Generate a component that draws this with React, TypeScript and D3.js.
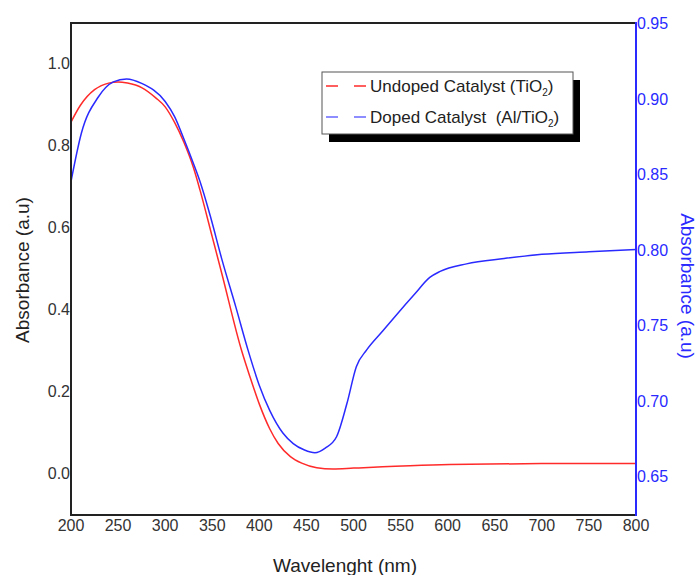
import React from "react";
import * as d3 from "d3";

const undopedWl = [200, 210, 225, 240, 250, 260, 275, 290, 300, 310, 320, 330, 337, 350, 360, 381, 390, 400, 411, 420, 433, 445, 461, 478, 500, 531, 560, 602, 700, 800];
const undopedAbs = [0.856, 0.897, 0.935, 0.951, 0.954, 0.951, 0.94, 0.915, 0.893, 0.855, 0.806, 0.745, 0.69, 0.576, 0.488, 0.30, 0.235, 0.168, 0.108, 0.072, 0.04, 0.024, 0.013, 0.01, 0.012, 0.015, 0.018, 0.021, 0.023, 0.023];

const dopedWl = [200, 211, 229, 245, 259, 275, 300, 310, 320, 330, 337, 348, 360, 375, 388, 400, 411, 425, 436, 448, 459, 470, 482, 493, 503, 514, 531, 546, 565, 581, 592, 620, 660, 700, 750, 800];
const dopedAbs = [0.845, 0.877, 0.901, 0.911, 0.913, 0.91, 0.898, 0.888, 0.873, 0.857, 0.845, 0.822, 0.794, 0.762, 0.7334, 0.710, 0.6935, 0.6785, 0.6715, 0.6672, 0.6654, 0.6685, 0.676, 0.698, 0.7224, 0.7335, 0.746, 0.757, 0.7705, 0.7815, 0.7855, 0.7905, 0.794, 0.7968, 0.7985, 0.800];

const xTicks = [200, 250, 300, 350, 400, 450, 500, 550, 600, 650, 700, 750, 800];
const leftTicks = [0.0, 0.2, 0.4, 0.6, 0.8, 1.0];
const rightTicks = [0.65, 0.70, 0.75, 0.80, 0.85, 0.90, 0.95];

const W = 698, H = 575;
const L = 71, R = 636, T = 23, B = 515;
const RED = "#ff2a2a";
const BLUE = "#2a2aff";
const FONT = "'Liberation Sans', Arial, sans-serif";

export default function App() {
  const x = d3.scaleLinear().domain([200, 800]).range([L, R]);
  const yL = d3.scaleLinear().domain([-0.1024, 1.0976]).range([B, T]);
  const yR = d3.scaleLinear().domain([0.6242, 0.95]).range([B, T]);

  const redLine = d3.line<number>().x((d, i) => x(undopedWl[i])).y((d) => yL(d)).curve(d3.curveMonotoneX)(undopedAbs) || "";
  const blueLine = d3.line<number>().x((d, i) => x(dopedWl[i])).y((d) => yR(d)).curve(d3.curveMonotoneX)(dopedAbs) || "";

  const lgX = 322, lgY = 72, lgW = 251, lgH = 62;

  return (
    <svg width={W} height={H} style={{ position: "absolute", left: 0, top: 0 }} fontFamily={FONT}>
      <rect width={W} height={H} fill="#fff" />
      <path d={redLine} fill="none" stroke={RED} strokeWidth={1.5} />
      <path d={blueLine} fill="none" stroke={BLUE} strokeWidth={1.5} />

      {/* frame */}
      <line x1={L} y1={T} x2={R} y2={T} stroke="#222" strokeWidth={2} />
      <line x1={L} y1={T - 1} x2={L} y2={B + 1} stroke="#222" strokeWidth={2} />
      <line x1={L - 1} y1={B} x2={R} y2={B} stroke="#222" strokeWidth={2} />
      <line x1={R} y1={T - 1} x2={R} y2={B + 1} stroke={BLUE} strokeWidth={2} />

      {/* ticks */}
      {xTicks.map((t) => (
        <text key={"x" + t} x={x(t)} y={531} textAnchor="middle" fontSize={16} fill="#333">{t}</text>
      ))}
      {leftTicks.map((t) => (
        <text key={"l" + t} x={L - 1} y={yL(t) + 6} textAnchor="end" fontSize={16} fill="#333">{t.toFixed(1)}</text>
      ))}
      {rightTicks.map((t) => (
        <text key={"r" + t} x={R + 1} y={yR(t) + 6} textAnchor="start" fontSize={16} fill={BLUE}>{t.toFixed(2)}</text>
      ))}

      <text x={345} y={572} textAnchor="middle" fontSize={19} fill="#222">Wavelenght (nm)</text>
      <text transform={`translate(29,270) rotate(-90)`} textAnchor="middle" fontSize={19} fill="#222">Absorbance (a.u)</text>
      <text transform={`translate(681,286) rotate(90)`} textAnchor="middle" fontSize={19} fill={BLUE}>Absorbance (a.u)</text>

      {/* legend */}
      <rect x={lgX + 7} y={lgY + 8} width={lgW} height={lgH} fill="#000" />
      <rect x={lgX} y={lgY} width={lgW} height={lgH} fill="#fff" stroke="#555" strokeWidth={1} />
      <line x1={lgX + 4} y1={86} x2={lgX + 46} y2={86} stroke={RED} strokeWidth={1.5} strokeDasharray="12,16" />
      <line x1={lgX + 4} y1={117} x2={lgX + 46} y2={117} stroke={BLUE} strokeWidth={1.5} strokeDasharray="12,16" opacity={0.7} />
      <text x={370} y={92} fontSize={17} fill="#222" style={{ whiteSpace: "pre" }}>
        Undoped Catalyst (TiO<tspan dy={4} fontSize={10}>2</tspan><tspan dy={-4}>)</tspan>
      </text>
      <text x={370} y={123} fontSize={17} fill="#222" style={{ whiteSpace: "pre" }}>
        {"Doped Catalyst  (Al/TiO"}<tspan dy={4} fontSize={10}>2</tspan><tspan dy={-4}>)</tspan>
      </text>
    </svg>
  );
}
